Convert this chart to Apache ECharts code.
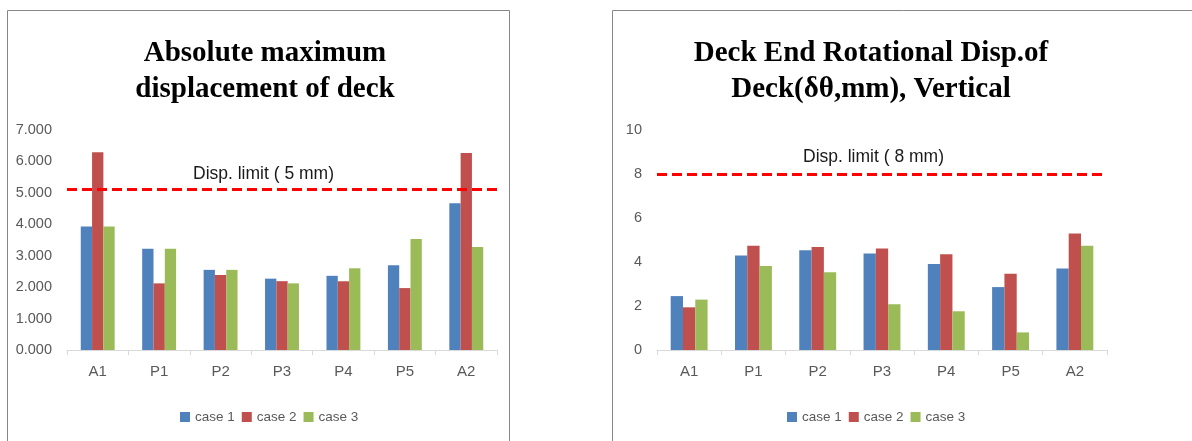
<!DOCTYPE html>
<html><head><meta charset="utf-8">
<script src="https://cdn.jsdelivr.net/npm/echarts@6/dist/echarts.min.js"></script>
<style>html,body{margin:0;padding:0;background:#fff}#c{width:1192px;height:441px}</style>
</head><body><div id="c"></div>
<script>
const categories = ['A1','P1','P2','P3','P4','P5','A2'];
const seriesNames = ['case 1','case 2','case 3'];
const leftCase1 = [3.93, 3.22, 2.55, 2.27, 2.36, 2.70, 4.67];
const leftCase2 = [6.29, 2.12, 2.39, 2.19, 2.19, 1.97, 6.27];
const leftCase3 = [3.93, 3.22, 2.55, 2.12, 2.60, 3.53, 3.28];
const rightCase1 = [2.45, 4.30, 4.53, 4.39, 3.91, 2.86, 3.70];
const rightCase2 = [1.94, 4.74, 4.68, 4.61, 4.35, 3.47, 5.30];
const rightCase3 = [2.29, 3.82, 3.53, 2.08, 1.76, 0.80, 4.74];
const leftLimit = 5.13, rightLimit = 8;
const leftLimitText = 'Disp. limit ( 5 mm)';
const rightLimitText = 'Disp. limit ( 8 mm)';
const leftTicks = {min:0, max:7, interval:1};
const rightTicks = {min:0, max:10, interval:2};
const titles = ['Absolute maximum\ndisplacement of deck', 'Deck End Rotational Disp.of\nDeck(δθ,mm), Vertical'];

const colors = ['#4f81bd','#c0504d','#9bbb59'];
const font = 'Liberation Sans';
const gray = '#595959';

function mkSeries(data, idx, gi, bw, limit, limitText, labelDist) {
  const s = {
    type:'bar', name: seriesNames[idx], data: data, xAxisIndex: gi, yAxisIndex: gi,
    barWidth: bw, barGap: '0%', itemStyle:{color: colors[idx]}, emphasis:{disabled:true}
  };
  if (idx === 0) {
    s.markLine = {
      silent:true, symbol:'none', animation:false,
      lineStyle:{color:'#ff0000', width:3, type:[10,5]},
      label:{show:true, position:'insideStartTop', formatter: limitText, color:'#1a1a1a', fontFamily: font, fontSize:17.5, distance: labelDist},
      data:[{yAxis: limit}]
    };
  }
  return s;
}
function xAx(gi){return {type:'category', gridIndex:gi, data:categories,
  axisLine:{lineStyle:{color:'#d9d9d9'}}, axisTick:{show:true,length:5,lineStyle:{color:'#d9d9d9'}},
  axisLabel:{color:gray, fontFamily:font, fontSize:15, margin:14}};}
function yAx(gi,t,fmt){return {type:'value', gridIndex:gi, min:t.min, max:t.max, interval:t.interval,
  splitLine:{show:false}, axisLine:{show:false}, axisTick:{show:false},
  axisLabel:{color:gray, fontFamily:font, fontSize:14.5, margin:15, formatter:fmt}};}

const titleStyle = {fontFamily:'Liberation Serif', fontWeight:'bold', fontSize:29, lineHeight:36, color:'#000'};
const legendStyle = {itemWidth:10, itemHeight:10, itemGap:7, icon:'rect', textStyle:{color:gray, fontFamily:font, fontSize:13.5}};

const chart = echarts.init(document.getElementById('c'));
chart.setOption({
  animation:false,
  title: [
    {text: titles[0], left: 260, top: 31, textAlign:'center', textStyle: titleStyle},
    {text: titles[1], left: 866, top: 31, textAlign:'center', textStyle: titleStyle}
  ],
  legend: [
    Object.assign({data: seriesNames, left: 175, top: 405}, legendStyle),
    Object.assign({data: seriesNames, left: 782, top: 405}, legendStyle)
  ],
  grid: [
    {left:67, right:695, top:130, bottom:91},
    {left:657, right:85, top:130, bottom:91}
  ],
  xAxis:[xAx(0), xAx(1)],
  yAxis:[yAx(0,leftTicks,v=>v.toFixed(3)), yAx(1,rightTicks,v=>String(v))],
  graphic:[
    {type:'rect', shape:{x:7.5,y:10.5,width:502,height:440}, style:{fill:'none', stroke:'#878787', lineWidth:1}, silent:true},
    {type:'rect', shape:{x:612.5,y:10.5,width:600,height:440}, style:{fill:'none', stroke:'#878787', lineWidth:1}, silent:true}
  ],
  series:[
    mkSeries(leftCase1,0,0,11.3,leftLimit,leftLimitText,[126,6]),
    mkSeries(leftCase2,1,0,11.3),
    mkSeries(leftCase3,2,0,11.3),
    mkSeries(rightCase1,0,1,12.3,rightLimit,rightLimitText,[146,8]),
    mkSeries(rightCase2,1,1,12.3),
    mkSeries(rightCase3,2,1,12.3)
  ]
});
</script></body></html>
